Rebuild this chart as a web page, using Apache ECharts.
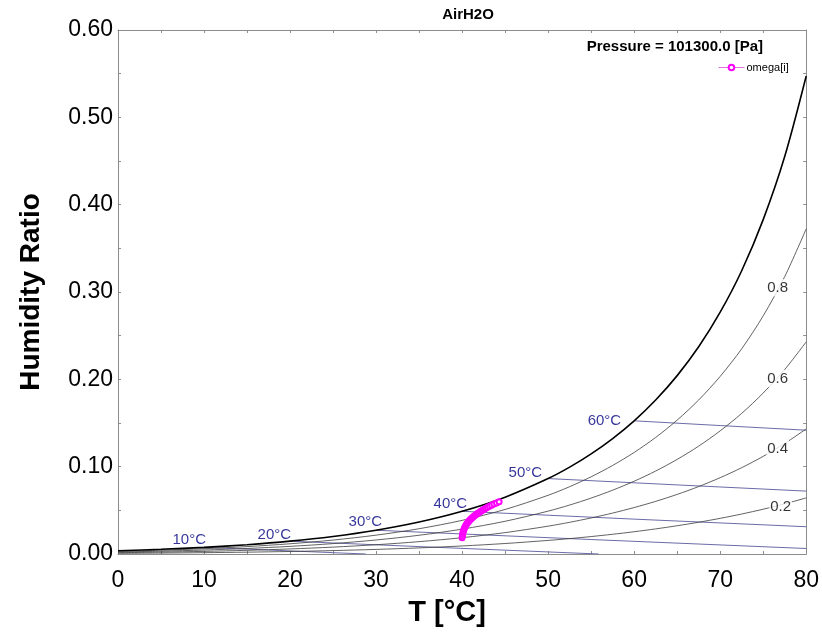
<!DOCTYPE html>
<html>
<head>
<meta charset="utf-8">
<title>AirH2O</title>
<script src="https://cdn.jsdelivr.net/npm/echarts@6/dist/echarts.min.js"></script>
<style>
  html, body { margin: 0; padding: 0; background: #fff; }
  #chart { width: 822px; height: 635px; }
</style>
</head>
<body>
<div id="chart"></div>
<script>
// Dry-bulb temperature grid [°C] shared by the relative-humidity curves
const tempGrid = [0, 5, 10, 15, 20, 25, 30, 35, 40, 45, 50, 52.5, 55, 57.5, 60, 62.5, 65, 67.5, 70, 72.5, 75, 77.5, 80];

// Humidity ratio along lines of constant relative humidity (P = 101300 Pa)
const omegaSat = [0.003776, 0.005405, 0.007634, 0.010653, 0.014703, 0.020091, 0.027216, 0.036594, 0.048907, 0.065075, 0.086369, 0.099418, 0.114607, 0.132143, 0.152499, 0.176285, 0.204245, 0.237247, 0.276852, 0.324359, 0.382842, 0.455070, 0.547295];
const omegaRh80 = [0.003017, 0.004316, 0.006092, 0.008493, 0.011707, 0.015970, 0.021584, 0.028935, 0.038519, 0.050993, 0.067227, 0.077070, 0.088426, 0.101406, 0.116296, 0.133462, 0.153329, 0.176345, 0.203378, 0.234980, 0.272703, 0.317585, 0.372314];
const omegaRh60 = [0.002260, 0.003231, 0.004558, 0.006348, 0.008739, 0.011901, 0.016049, 0.021452, 0.028449, 0.037476, 0.049094, 0.056066, 0.064044, 0.073075, 0.083327, 0.095002, 0.108320, 0.123505, 0.141006, 0.161027, 0.184324, 0.211227, 0.242890];
const omegaRh40 = [0.001505, 0.002151, 0.003031, 0.004218, 0.005799, 0.007884, 0.010608, 0.014139, 0.018681, 0.024492, 0.031890, 0.036287, 0.041279, 0.046881, 0.053177, 0.060265, 0.068251, 0.077226, 0.087399, 0.098823, 0.111836, 0.126499, 0.143275];
const omegaRh20 = [0.000752, 0.001073, 0.001512, 0.002102, 0.002886, 0.003917, 0.005259, 0.006990, 0.009202, 0.012010, 0.015546, 0.017629, 0.019977, 0.022589, 0.025498, 0.028740, 0.032351, 0.036356, 0.040831, 0.045776, 0.051305, 0.057411, 0.064240];
const rhCurveLabels = ['0.8', '0.6', '0.4', '0.2'];

// Constant wet-bulb temperature lines: [T, omega] end and mid points
const wetBulbTemps = [10, 20, 30, 40, 50, 60];
const wetBulbT = [
  [10, 19.4, 28.8],
  [20, 38, 55.87],
  [30, 55, 80],
  [40, 60, 80],
  [50, 65, 80],
  [60, 70, 80]
];
const wetBulbOmega = [
  [0.00763, 0.00379, 0.0],
  [0.01470, 0.00723, 0.0],
  [0.02722, 0.01655, 0.00629],
  [0.04891, 0.03993, 0.03123],
  [0.08637, 0.07911, 0.07203],
  [0.15250, 0.14708, 0.14175]
];

// Process states omega[i]
const omegaT = [40.00, 40.03, 40.06, 40.10, 40.15, 40.21, 40.28, 40.36, 40.45, 40.55, 40.65, 40.76, 40.87, 40.99, 41.11, 41.24, 41.37, 41.50, 41.64, 41.78, 41.93, 42.08, 42.24, 42.40, 42.57, 42.75, 42.95, 43.18, 43.43, 43.70, 44.00, 44.30];
const omegaW = [0.0185, 0.0205, 0.0225, 0.0245, 0.0263, 0.0281, 0.0298, 0.0315, 0.0331, 0.0346, 0.0360, 0.0373, 0.0386, 0.0398, 0.0410, 0.0421, 0.0432, 0.0443, 0.0453, 0.0463, 0.0473, 0.0483, 0.0493, 0.0503, 0.0513, 0.0523, 0.0534, 0.0546, 0.0559, 0.0572, 0.0585, 0.0597];

// Axis ticks
const xTicks = { min: 0, max: 80, step: 10 };
const yTicks = { min: 0, max: 0.6, step: 0.1 };

const FONT = 'Liberation Sans, Arial, Helvetica, sans-serif';
const FRAME = '#8c8c8c';
const WB_COLOR = '#6b6ba8';
const WB_TEXT = '#000080';

const zip = (xs, ys) => xs.map((x, i) => [x, ys[i]]);

const series = [];

// Saturation curve
series.push({
  type: 'line', data: zip(tempGrid, omegaSat), showSymbol: false, smooth: 0.3,
  lineStyle: { color: '#000', width: 1.6 }, silent: true, z: 4
});

// Relative humidity curves with their labels near the right edge
const rhSets = [omegaRh80, omegaRh60, omegaRh40, omegaRh20];
const rhLabelOffsets = [[-7, 11], [-7, 9], [-7, 5], [-4, 3]];
rhSets.forEach((arr, k) => {
  series.push({
    type: 'line', data: zip(tempGrid, arr), showSymbol: false, smooth: 0.3,
    lineStyle: { color: '#3a3a3a', width: 0.8 }, silent: true, z: 3
  });
  const idx = tempGrid.indexOf(77.5);
  series.push({
    type: 'scatter', symbolSize: 0, silent: true, z: 6,
    data: [[tempGrid[idx], arr[idx]]],
    label: {
      show: true, position: 'inside', offset: rhLabelOffsets[k],
      formatter: rhCurveLabels[k], color: '#000', fontFamily: FONT, fontSize: 15,
      backgroundColor: '#fff', padding: [1, 1]
    }
  });
});

// Wet-bulb lines and their temperature tags
const wbOffsets = [[2, -7], [1, -6], [6, -8], [5, -7], [-6, -6], [-13, 0]];
wetBulbTemps.forEach((t, k) => {
  series.push({
    type: 'line', data: zip(wetBulbT[k], wetBulbOmega[k]), showSymbol: false,
    lineStyle: { color: WB_COLOR, width: 1 }, silent: true, z: 2
  });
  series.push({
    type: 'scatter', symbolSize: 0, silent: true, z: 6,
    data: [[wetBulbT[k][0], wetBulbOmega[k][0]]],
    label: {
      show: true, position: 'left', distance: 0, offset: wbOffsets[k],
      formatter: t + '°C', color: WB_TEXT, fontFamily: FONT, fontSize: 15
    }
  });
});

// Process path
series.push({
  name: 'omega[i]', type: 'line', data: zip(omegaT, omegaW),
  symbol: 'emptyCircle', symbolSize: 5, showSymbol: true, showAllSymbol: true,
  itemStyle: { color: '#ff00ff', borderWidth: 1 },
  lineStyle: { color: '#ff00ff', width: 1.5 }, z: 8, silent: true
});

const chart = echarts.init(document.getElementById('chart'), null, { renderer: 'canvas' });
chart.setOption({
  animation: false,
  backgroundColor: '#fff',
  textStyle: { fontFamily: FONT },
  title: [
    { text: 'AirH2O', left: 463, top: 2, textAlign: 'center',
      textStyle: { fontFamily: FONT, fontSize: 15, fontWeight: 'bold', color: '#000' } },
    { text: 'Pressure = 101300.0 [Pa]', right: 54, top: 34,
      textStyle: { fontFamily: FONT, fontSize: 15, fontWeight: 'bold', color: '#000' } }
  ],
  legend: {
    data: ['omega[i]'],
    left: 713, top: 57, itemWidth: 26, itemHeight: 7, itemGap: 2,
    lineStyle: { width: 1, color: '#e070e0' },
    itemStyle: { borderColor: '#e070e0' },
    textStyle: { fontFamily: FONT, fontSize: 11, color: '#000', padding: [0, 0, 0, -3] },
    selectedMode: false
  },
  grid: { left: 118, top: 30, width: 690, height: 524, containLabel: false },
  xAxis: [
    {
      type: 'value', position: 'bottom', min: xTicks.min, max: xTicks.max, interval: xTicks.step,
      name: 'T [°C]', nameLocation: 'middle', nameGap: 44,
      nameTextStyle: { fontFamily: FONT, fontSize: 29, fontWeight: 'bold', color: '#000', padding: [0, 30, 0, 0] },
      axisLine: { onZero: false, lineStyle: { color: FRAME, width: 1 } },
      axisTick: { inside: true, length: 3, lineStyle: { color: FRAME } },
      minorTick: { show: true, splitNumber: 2, length: 3, lineStyle: { color: FRAME } },
      splitLine: { show: false },
      axisLabel: { fontFamily: FONT, fontSize: 23, color: '#000', margin: 15 }
    },
    {
      type: 'value', position: 'top', min: xTicks.min, max: xTicks.max, interval: xTicks.step / 2,
      axisLine: { onZero: false, lineStyle: { color: FRAME, width: 1 } },
      axisTick: { inside: true, length: 3, lineStyle: { color: FRAME } },
      splitLine: { show: false }, axisLabel: { show: false }
    }
  ],
  yAxis: [
    {
      type: 'value', position: 'left', min: yTicks.min, max: yTicks.max, interval: yTicks.step,
      name: 'Humidity Ratio', nameLocation: 'middle', nameGap: 73, nameRotate: 90,
      nameTextStyle: { fontFamily: FONT, fontSize: 28, fontWeight: 'bold', color: '#000' },
      axisLine: { show: true, onZero: false, lineStyle: { color: FRAME, width: 1 } },
      axisTick: { show: true, inside: true, length: 3, lineStyle: { color: FRAME } },
      minorTick: { show: true, splitNumber: 2, length: 3, lineStyle: { color: FRAME } },
      splitLine: { show: false },
      axisLabel: { fontFamily: FONT, fontSize: 23, color: '#000', margin: 5,
        formatter: v => v.toFixed(2) }
    },
    {
      type: 'value', position: 'right', min: yTicks.min, max: yTicks.max, interval: yTicks.step / 2,
      axisLine: { show: true, onZero: false, lineStyle: { color: FRAME, width: 1 } },
      axisTick: { show: true, inside: true, length: 3, lineStyle: { color: FRAME } },
      splitLine: { show: false }, axisLabel: { show: false }
    }
  ],
  series: series
});
</script>
</body>
</html>
